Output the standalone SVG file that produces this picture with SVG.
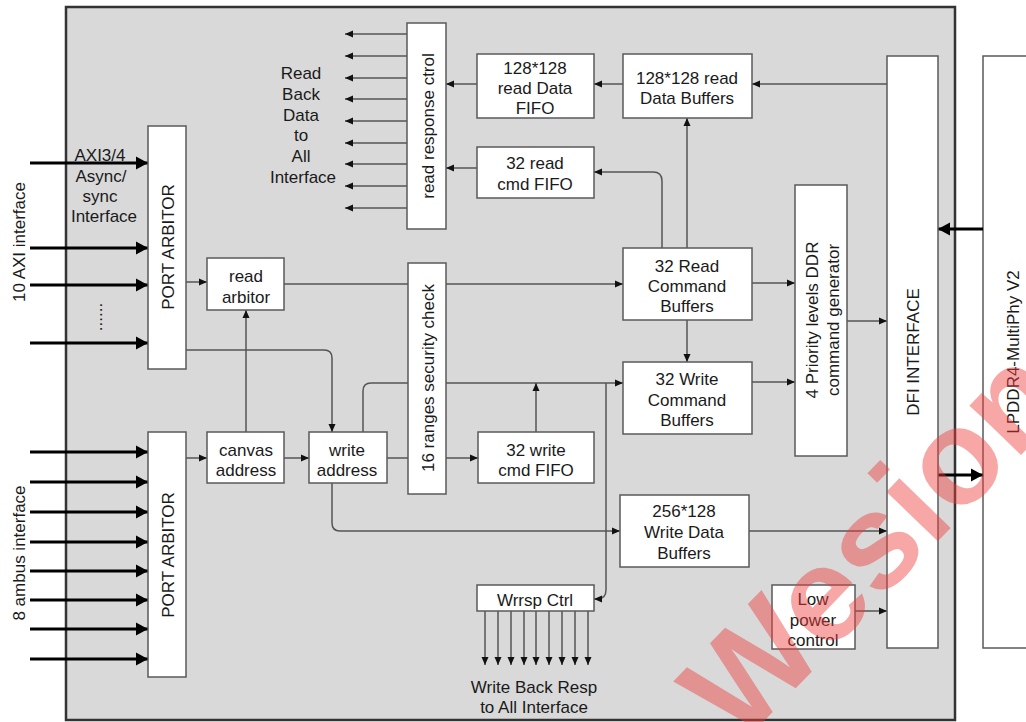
<svg xmlns="http://www.w3.org/2000/svg" width="1026" height="722" viewBox="0 0 1026 722">
<defs>
<style>
.box{fill:#fff;stroke:#5a5a5a;stroke-width:1.5}
.t{font-family:"Liberation Sans",Arial,sans-serif;font-size:17px;fill:#1a1a1a;text-anchor:middle}
.c{fill:none;stroke:#555;stroke-width:1.5}
.ca{fill:none;stroke:#555;stroke-width:1.5;marker-end:url(#ah)}
.tk{fill:none;stroke:#000;stroke-width:3;marker-end:url(#ahb)}
</style>
<marker id="ah" markerUnits="userSpaceOnUse" markerWidth="9" markerHeight="8" refX="8" refY="4" orient="auto"><path d="M0,0.5 L8,4 L0,7.5 z" fill="#111"/></marker>
<marker id="ahb" markerUnits="userSpaceOnUse" markerWidth="13" markerHeight="14" refX="12" refY="7" orient="auto"><path d="M0,0.5 L12,7 L0,13.5 z" fill="#000"/></marker>
</defs>
<rect x="0" y="0" width="1026" height="722" fill="#fff"/>
<rect id="outer" x="66" y="7" width="889" height="713" fill="#d9d9d9" stroke="#333" stroke-width="2.5"/>
<rect id="lpddr4-box" class="box" x="983" y="56" width="60" height="592"/>

<g id="connectors">
<path class="ca" d="M407,34 L345,34"/>
<path class="ca" d="M407,56 L345,56"/>
<path class="ca" d="M407,78 L345,78"/>
<path class="ca" d="M407,99 L345,99"/>
<path class="ca" d="M407,121 L345,121"/>
<path class="ca" d="M407,143 L345,143"/>
<path class="ca" d="M407,164 L345,164"/>
<path class="ca" d="M407,186 L345,186"/>
<path class="ca" d="M407,208 L345,208"/>
<path class="ca" d="M477,84 L446,84"/>
<path class="ca" d="M623,84 L594,84"/>
<path class="ca" d="M887,84 L752,84"/>
<path class="ca" d="M477,168 L446,168"/>
<path class="ca" d="M662,248 L662,181 Q662,172 653,172 L594,172"/>
<path class="ca" d="M687,248 L687,118"/>
<path class="ca" d="M687,320 L687,362"/>
<path class="ca" d="M284,284 L623,284"/>
<path class="ca" d="M752,283 L795,283"/>
<path class="ca" d="M752,382 L795,382"/>
<path class="ca" d="M847,321 L887,321"/>
<path class="tk" d="M983,229 L938,229"/>
<path class="tk" d="M938,475 L983,475"/>
<path class="ca" d="M749,531 L887,531"/>
<path class="ca" d="M855,611 L887,611"/>
<path class="ca" d="M186,282 L207,282"/>
<path class="ca" d="M186,350 L324,350 Q332,350 332,358 L332,432"/>
<path class="ca" d="M246,432 L246,310"/>
<path class="ca" d="M186,458 L207,458"/>
<path class="ca" d="M284,458 L309,458"/>
<path class="ca" d="M387,458 L478,458"/>
<path class="ca" d="M363,432 L363,391 Q363,383 371,383 L623,383"/>
<path class="ca" d="M536,432 L536,383"/>
<path class="ca" d="M606,383 L606,590 Q606,599 597,599 L594,599"/>
<path class="ca" d="M332,483 L332,523 Q332,531 340,531 L620,531"/>
<path class="ca" d="M485,611 L485,665"/>
<path class="ca" d="M498,611 L498,665"/>
<path class="ca" d="M511,611 L511,665"/>
<path class="ca" d="M524,611 L524,665"/>
<path class="ca" d="M536,611 L536,665"/>
<path class="ca" d="M549,611 L549,665"/>
<path class="ca" d="M562,611 L562,665"/>
<path class="ca" d="M575,611 L575,665"/>
<path class="ca" d="M588,611 L588,665"/>
<path class="tk" d="M30,163 L148,163"/>
<path class="tk" d="M30,248 L148,248"/>
<path class="tk" d="M30,285 L148,285"/>
<path class="tk" d="M30,343 L148,343"/>
<path class="tk" d="M30,452 L148,452"/>
<path class="tk" d="M30,482 L148,482"/>
<path class="tk" d="M30,512 L148,512"/>
<path class="tk" d="M30,542 L148,542"/>
<path class="tk" d="M30,571 L148,571"/>
<path class="tk" d="M30,600 L148,600"/>
<path class="tk" d="M30,629 L148,629"/>
<path class="tk" d="M30,659 L148,659"/>
</g>

<g id="labels">
<text class="t"><tspan x="301" y="79">Read</tspan><tspan x="301" y="100">Back</tspan><tspan x="301" y="121">Data</tspan><tspan x="301" y="141">to</tspan><tspan x="301" y="162">All</tspan><tspan x="303" y="183">Interface</tspan></text>
<text class="t"><tspan x="100" y="161">AXI3/4</tspan><tspan x="101" y="182">Async/</tspan><tspan x="100" y="202">sync</tspan><tspan x="104" y="222">Interface</tspan></text>
<text class="t" transform="translate(100,317) rotate(-90)" y="2">......</text>
<text class="t" transform="translate(19,242) rotate(-90)" y="6">10 AXI interface</text>
<text class="t" transform="translate(19,553) rotate(-90)" y="6">8 ambus interface</text>
<text class="t"><tspan x="534" y="693">Write Back Resp</tspan><tspan x="534" y="713">to All Interface</tspan></text>
</g>

<g id="port-arbitor-axi"><rect class="box" x="148" y="126" width="38" height="243"/><text class="t" transform="translate(168,247) rotate(-90)" y="6">PORT ARBITOR</text></g>
<g id="port-arbitor-ambus"><rect class="box" x="148" y="432" width="38" height="245"/><text class="t" transform="translate(168,555) rotate(-90)" y="6">PORT ARBITOR</text></g>
<g id="read-response-ctrl"><rect class="box" x="407" y="23" width="39" height="206"/><text class="t" transform="translate(428,126) rotate(-90)" y="6">read response ctrol</text></g>
<g id="read-data-fifo"><rect class="box" x="477" y="54" width="117" height="64"/><text class="t"><tspan x="535" y="74">128*128</tspan><tspan x="535" y="94">read Data</tspan><tspan x="535" y="114">FIFO</tspan></text></g>
<g id="read-data-buffers"><rect class="box" x="623" y="54" width="129" height="64"/><text class="t"><tspan x="687" y="84">128*128 read</tspan><tspan x="687" y="104">Data Buffers</tspan></text></g>
<g id="read-cmd-fifo"><rect class="box" x="477" y="147" width="117" height="51"/><text class="t"><tspan x="535" y="169">32 read</tspan><tspan x="535" y="190">cmd FIFO</tspan></text></g>
<g id="read-arbitor"><rect class="box" x="207" y="258" width="77" height="52"/><text class="t"><tspan x="246" y="282">read</tspan><tspan x="246" y="303">arbitor</tspan></text></g>
<g id="security-check"><rect class="box" x="408" y="263" width="38" height="231"/><text class="t" transform="translate(428,378) rotate(-90)" y="6">16 ranges security check</text></g>
<g id="read-command-buffers"><rect class="box" x="623" y="248" width="129" height="72"/><text class="t"><tspan x="687" y="272">32 Read</tspan><tspan x="687" y="292">Command</tspan><tspan x="687" y="312">Buffers</tspan></text></g>
<g id="write-command-buffers"><rect class="box" x="623" y="362" width="129" height="72"/><text class="t"><tspan x="687" y="385">32 Write</tspan><tspan x="687" y="406">Command</tspan><tspan x="687" y="426">Buffers</tspan></text></g>
<g id="ddr-command-generator"><rect class="box" x="795" y="185" width="52" height="271"/><text class="t" transform="translate(821,320) rotate(-90)"><tspan x="0" y="-3">4 Priority levels DDR</tspan><tspan x="0" y="18">command generator</tspan></text></g>
<g id="canvas-address"><rect class="box" x="207" y="432" width="77" height="51"/><text class="t"><tspan x="246" y="456">canvas</tspan><tspan x="246" y="476">address</tspan></text></g>
<g id="write-address"><rect class="box" x="309" y="432" width="78" height="51"/><text class="t"><tspan x="347" y="456">write</tspan><tspan x="347" y="476">address</tspan></text></g>
<g id="write-cmd-fifo"><rect class="box" x="478" y="432" width="116" height="51"/><text class="t"><tspan x="536" y="456">32 write</tspan><tspan x="536" y="476">cmd FIFO</tspan></text></g>
<g id="write-data-buffers"><rect class="box" x="620" y="495" width="129" height="72"/><text class="t"><tspan x="684" y="517">256*128</tspan><tspan x="684" y="538">Write Data</tspan><tspan x="684" y="559">Buffers</tspan></text></g>
<g id="wrrsp-ctrl"><rect class="box" x="477" y="585" width="117" height="26"/><text class="t" x="535" y="606">Wrrsp Ctrl</text></g>
<g id="low-power-control"><rect class="box" x="772" y="585" width="83" height="64"/><text class="t"><tspan x="813" y="605">Low</tspan><tspan x="813" y="626">power</tspan><tspan x="813" y="646">control</tspan></text></g>
<g id="dfi-interface"><rect class="box" x="887" y="56" width="51" height="592"/><text class="t" transform="translate(913,352) rotate(-90)" y="6">DFI INTERFACE</text></g>
<g id="lpddr4-multiphy"><text class="t" transform="translate(1013,352) rotate(-90)" y="6">LPDDR4-MultiPhy V2</text></g>

<text id="watermark" x="0" y="0" transform="translate(740,746) rotate(-46)" font-family="Liberation Sans,Arial,sans-serif" font-weight="bold" font-size="135" fill="#f03c3c" fill-opacity="0.45">Wesion</text>
</svg>
